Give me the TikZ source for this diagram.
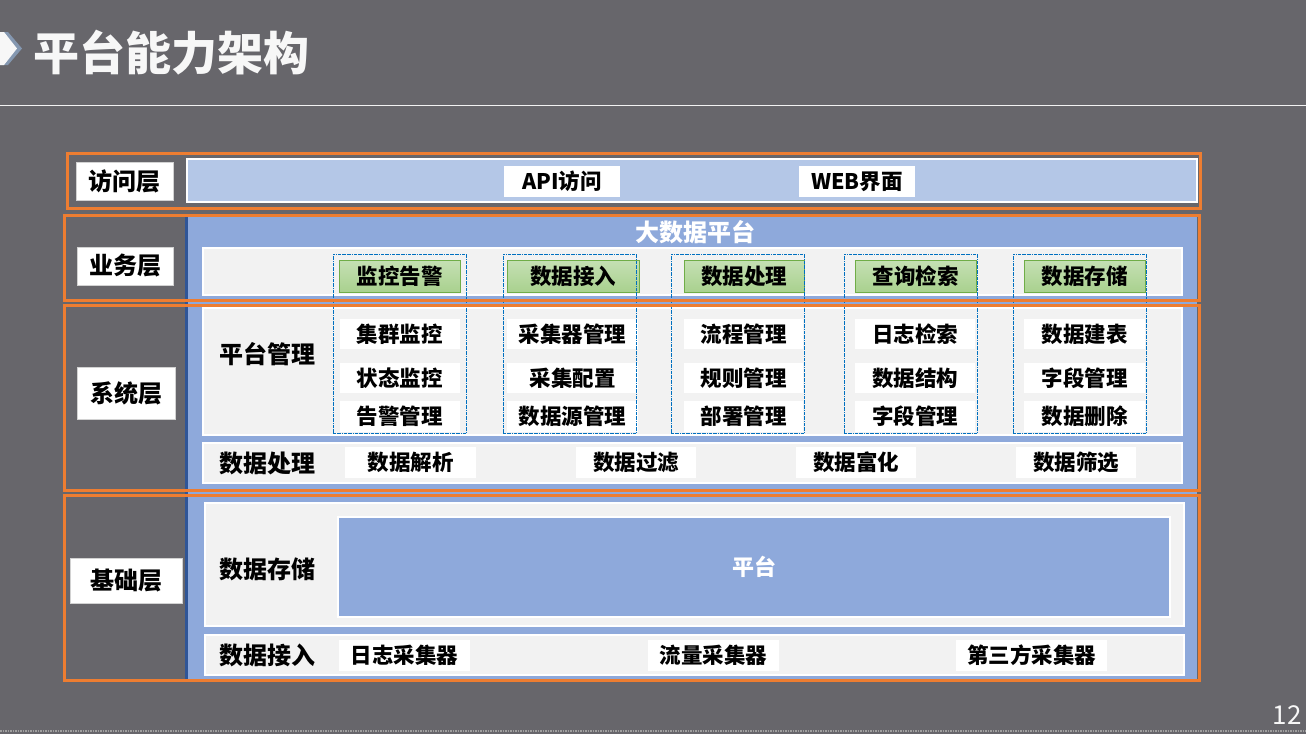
\documentclass[tikz,border=0pt]{standalone}
\usepackage{fontspec}
\setmainfont{Noto Sans CJK SC}
\usepackage{xcolor}
\usepackage{tikz}
\usetikzlibrary{positioning}
\definecolor{bgray}{HTML}{67666B}
\definecolor{orng}{HTML}{ED7D31}
\definecolor{pblue}{HTML}{8EA9DB}
\definecolor{lblue}{HTML}{B4C7E7}
\definecolor{dblue}{HTML}{2F5597}
\definecolor{pgray}{HTML}{F2F2F2}
\definecolor{gtop}{HTML}{C5E0B4}
\definecolor{gbot}{HTML}{A9D18E}
\definecolor{gline}{HTML}{70AD47}
\definecolor{dashblue}{HTML}{0070C0}
\definecolor{chev}{HTML}{8497B0}
\newcommand{\fs}[1]{\fontsize{#1}{#1}\selectfont}

\begin{document}
\begin{tikzpicture}[x=1pt, y=-1pt,
    layerbox/.style={draw=orng, line width=3pt, inner sep=0pt},
    laytag/.style={fill=white, draw=gray!35, line width=0.8pt, inner sep=0pt, font=\fs{24}\bfseries},
    panel/.style={fill=pgray, draw=white, line width=2pt, inner sep=0pt},
    item/.style={fill=white, inner sep=0pt, minimum height=30, font=\fs{21.5}\bfseries},
    head/.style={item, top color=gtop, bottom color=gbot, draw=gline, line width=1pt},
    colbox/.style={draw=dashblue, densely dashdotted, line width=0.8pt, inner sep=0pt, minimum width=133, minimum height=179},
    sublab/.style={font=\fs{24}\bfseries, inner sep=0pt}]
\useasboundingbox (0,0) rectangle (1306,734);
\fill[bgray] (0,0) rectangle (1306,734);
\fill[chev] (0,32) -- (8,32) -- (22,48.5) -- (8,65) -- (0,65) -- cycle;
\fill[white!94!gray] (0,32) -- (4,32) -- (17,48.5) -- (4,65) -- (0,65) -- cycle;
\node[text=white!94!gray, font=\fs{46}\bfseries] (title) at (171,53) {平台能力架构};
\draw[white!90!gray, line width=1pt] (0,105) -- (1306,105);
\draw[gray!75, densely dotted, line width=1.5pt] (0,731) -- (1306,731);
\node[text=white!94!gray, font=\fs{26}] (pagenum) at (1287,715) {12};

\node[fill=pblue, inner sep=0pt, minimum width=1010, minimum height=463] (platform) at (692,448.5) {};
\draw[dblue, line width=3pt] (platform.north west) -- (platform.south west) -- (platform.south east);
\node[fill=lblue, draw=white, line width=2pt, inner sep=0pt, minimum width=1010, minimum height=43] (accrow) at (692,180.5) {};
\node[text=white, font=\fs{24}\bfseries] (bigdata) at (695,232) {大数据平台};

\node[panel, minimum width=979, minimum height=47] (bizrow) at (692.5,271.5) {};
\node[panel, minimum width=979, minimum height=127] (mgmtrow) at (692.5,371.5) {};
\node[panel, minimum width=979, minimum height=40] (procrow) at (692.5,463) {};
\node[panel, minimum width=979, minimum height=123] (storerow) at (694.5,564.5) {};
\node[panel, minimum width=979, minimum height=40] (inrow) at (694.5,655) {};
\node[fill=pblue, draw=white, line width=2pt, inner sep=0pt, minimum width=832, minimum height=100, text=white, font=\fs{22}\bfseries] (core) at (754,567) {平台};

\node[item, minimum width=116, minimum height=31] (api) at (562,181.5) {API访问};
\node[item, minimum width=116, minimum height=31] (web) at (857,181.5) {WEB界面};

\node[head, minimum width=121, minimum height=32] (h1) at (399.5,276) {监控告警};
\node[head, minimum width=132, minimum height=32] (h2) at (573,276) {数据接入};
\node[head, minimum width=120, minimum height=32] (h3) at (744,276) {数据处理};
\node[head, minimum width=121, minimum height=32] (h4) at (915.5,276) {查询检索};
\node[head, minimum width=121, minimum height=32] (h5) at (1084.5,276) {数据存储};

\node[item, minimum width=120] (a1) at (399.5,334) {集群监控};
\node[item, minimum width=120] (a2) at (399.5,378) {状态监控};
\node[item, minimum width=120, minimum height=31] (a3) at (399.5,416.5) {告警管理};
\node[item, minimum width=131] (b1) at (572.5,334) {采集器管理};
\node[item, minimum width=131] (b2) at (572.5,378) {采集配置};
\node[item, minimum width=131, minimum height=31] (b3) at (572.5,416.5) {数据源管理};
\node[item, minimum width=119] (c1) at (743.5,334) {流程管理};
\node[item, minimum width=119] (c2) at (743.5,378) {规则管理};
\node[item, minimum width=119, minimum height=31] (c3) at (743.5,416.5) {部署管理};
\node[item, minimum width=120] (d1) at (915,334) {日志检索};
\node[item, minimum width=120] (d2) at (915,378) {数据结构};
\node[item, minimum width=120, minimum height=31] (d3) at (915,416.5) {字段管理};
\node[item, minimum width=121] (e1) at (1084.5,334) {数据建表};
\node[item, minimum width=121] (e2) at (1084.5,378) {字段管理};
\node[item, minimum width=121, minimum height=31] (e3) at (1084.5,416.5) {数据删除};

\node[colbox] (col1) at (399.5,343.5) {};
\node[colbox] (col2) at (569.5,343.5) {};
\node[colbox] (col3) at (737.5,343.5) {};
\node[colbox] (col4) at (910.5,343.5) {};
\node[colbox] (col5) at (1079.5,343.5) {};

\node[item, minimum width=131, minimum height=31] (p1) at (410.5,462.5) {数据解析};
\node[item, minimum width=120, minimum height=31] (p2) at (636,462.5) {数据过滤};
\node[item, minimum width=120, minimum height=31] (p3) at (856,462.5) {数据富化};
\node[item, minimum width=120, minimum height=31] (p4) at (1076,462.5) {数据筛选};

\node[item, minimum width=131, minimum height=31] (i1) at (404.5,655.5) {日志采集器};
\node[item, minimum width=131, minimum height=31] (i2) at (713.5,655.5) {流量采集器};
\node[item, minimum width=151, minimum height=31] (i3) at (1031.5,655.5) {第三方采集器};

\node[sublab] (mgmt) at (267,354) {平台管理};
\node[sublab] (proc) at (267,463) {数据处理};
\node[sublab] (store) at (267,569) {数据存储};
\node[sublab] (input) at (267,655) {数据接入};

\node[layerbox, minimum width=1133, minimum height=55] (acc) at (633.5,180.5) {};
\node[layerbox, minimum width=1135, minimum height=85] (biz) at (631.5,257.5) {};
\node[layerbox, minimum width=1135, minimum height=185] (sys) at (631.5,397.5) {};
\node[layerbox, minimum width=1135, minimum height=185] (base) at (631.5,587.5) {};
\node[laytag, minimum width=97, minimum height=38] (acctag) at (124.5,181) {访问层};
\node[laytag, minimum width=96, minimum height=38] (biztag) at (125,266) {业务层};
\node[laytag, minimum width=98, minimum height=52] (systag) at (126,393) {系统层};
\node[laytag, minimum width=112, minimum height=45] (basetag) at (126,580.5) {基础层};
\end{tikzpicture}
\end{document}
